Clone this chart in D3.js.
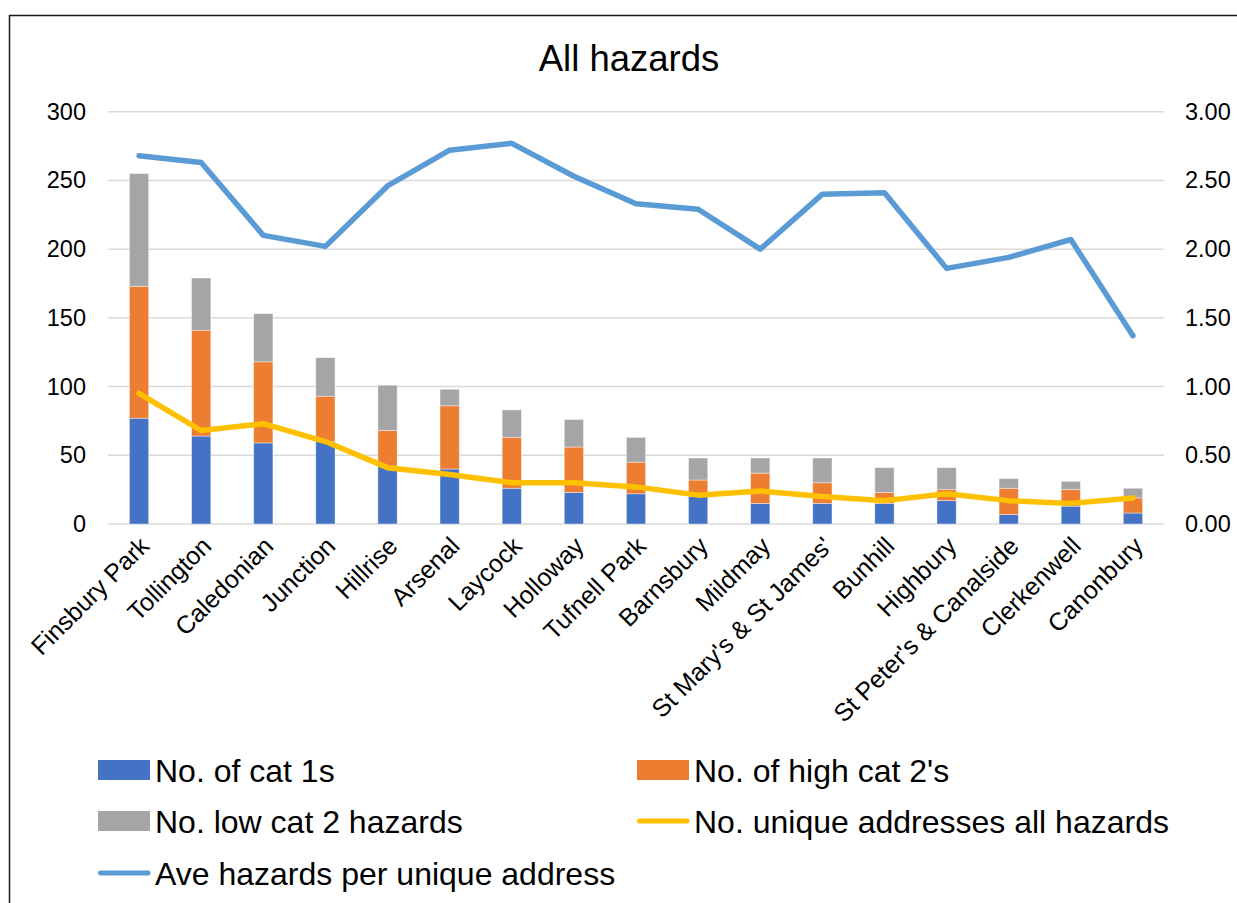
<!DOCTYPE html>
<html>
<head>
<meta charset="utf-8">
<script src="https://cdn.jsdelivr.net/npm/d3@7/dist/d3.min.js"></script>
<style>
  body { margin: 0; background: #fff; }
  svg { display: block; font-family: "Liberation Sans", Arial, sans-serif; }
</style>
</head>
<body>
<svg id="chart" width="1237" height="903"></svg>
<script>
const categories = ["Finsbury Park","Tollington","Caledonian","Junction","Hillrise","Arsenal","Laycock","Holloway","Tufnell Park","Barnsbury","Mildmay","St Mary's & St James'","Bunhill","Highbury","St Peter's & Canalside","Clerkenwell","Canonbury"];
const cat1 = [77,64,59,60,42,40,26,23,22,20,15,15,15,17,7,13,8];
const highCat2 = [96,77,59,33,26,46,37,33,23,12,22,15,8,8,19,12,11];
const lowCat2 = [82,38,35,28,33,12,20,20,18,16,11,18,18,16,7,6,7];
const uniqueAddresses = [95,68,73,60,41,36,30,30,27,21,24,20,17,22,17,15,19];
const aveHazards = [2.68,2.63,2.10,2.02,2.46,2.72,2.77,2.53,2.33,2.29,2.00,2.40,2.41,1.86,1.94,2.07,1.37];
const leftTicks = [0,50,100,150,200,250,300];
const rightTicks = [0,0.5,1,1.5,2,2.5,3];

const seriesNames = ["No. of cat 1s","No. of high cat 2's","No. low cat 2 hazards","No. unique addresses all hazards","Ave hazards per unique address"];
const colors = ["#4472c4","#ed7d31","#a5a5a5","#ffc000","#5b9bd5"];

const svg = d3.select("#chart");
const W = 1237, H = 903;
const plot = {left: 108, right: 1164, top: 111.7, bottom: 524};

// border
svg.append("path").attr("d", `M9.5,${H} V15.5 H${W}`).attr("fill","none").attr("stroke","#1a1a1a").attr("stroke-width",1.5);

const x = d3.scaleBand().domain(categories).range([plot.left, plot.right]).paddingInner(0.69).paddingOuter(0.345);
const y = d3.scaleLinear().domain([0,300]).range([plot.bottom, plot.top]);
const y2 = d3.scaleLinear().domain([0,3]).range([plot.bottom, plot.top]);

// gridlines
svg.append("g").selectAll("line").data(leftTicks).join("line")
  .attr("x1", plot.left).attr("x2", plot.right)
  .attr("y1", d => y(d)).attr("y2", d => y(d))
  .attr("stroke", "#d9d9d9").attr("stroke-width", 1.5);

// left axis
const yAxis = d3.axisLeft(y).tickValues(leftTicks).tickSize(0).tickPadding(0).tickFormat(d3.format("d"));
const gL = svg.append("g").attr("transform", `translate(86,0)`).call(yAxis);
gL.select(".domain").remove();
gL.selectAll("text").attr("font-size", 23.5).attr("fill", "#000").attr("font-family", "Liberation Sans, Arial, sans-serif");

// right axis
const yAxis2 = d3.axisRight(y2).tickValues(rightTicks).tickSize(0).tickPadding(0).tickFormat(d3.format(".2f"));
const gR = svg.append("g").attr("transform", `translate(1185,0)`).call(yAxis2);
gR.select(".domain").remove();
gR.selectAll("text").attr("font-size", 23.5).attr("fill", "#000").attr("font-family", "Liberation Sans, Arial, sans-serif");

// stacked bars
const rows = categories.map((c,i) => ({cat:c, a:cat1[i], b:highCat2[i], c2:lowCat2[i]}));
const stack = d3.stack().keys(["a","b","c2"])(rows);
svg.append("g").selectAll("g").data(stack).join("g")
  .attr("fill", (d,i) => colors[i])
  .selectAll("rect").data(d => d).join("rect")
  .attr("x", d => x(d.data.cat))
  .attr("width", x.bandwidth())
  .attr("y", d => y(d[1]))
  .attr("height", d => y(d[0]) - y(d[1]))
  .attr("stroke", "#ffffff").attr("stroke-opacity", 0.5).attr("stroke-width", 0.8);

// lines
const cx = c => x(c) + x.bandwidth()/2;
const lineU = d3.line().x((d,i) => cx(categories[i])).y(d => y(d));
const lineA = d3.line().x((d,i) => cx(categories[i])).y(d => y2(d));
svg.append("path").datum(uniqueAddresses).attr("d", lineU).attr("fill","none")
  .attr("stroke", colors[3]).attr("stroke-width", 5.5).attr("stroke-linecap","round").attr("stroke-linejoin","round");
svg.append("path").datum(aveHazards).attr("d", lineA).attr("fill","none")
  .attr("stroke", colors[4]).attr("stroke-width", 5.5).attr("stroke-linecap","round").attr("stroke-linejoin","round");

// x labels
const xAxis = d3.axisBottom(x).tickSize(0).tickPadding(0);
const gX = svg.append("g").attr("transform", `translate(0,${plot.bottom})`).call(xAxis);
gX.select(".domain").remove();
gX.selectAll("text")
  .attr("font-size", 25).attr("fill", "#000").attr("font-family", "Liberation Sans, Arial, sans-serif")
  .attr("text-anchor", "end")
  .attr("transform", "translate(-1,11) rotate(-45)")
  .attr("dy", "0.71em").attr("y", 0).attr("x", 0);

// title
svg.append("text").attr("x", 629).attr("y", 71).attr("text-anchor","middle")
  .attr("font-size", 36.5).attr("fill","#000").text("All hazards");

// legend
const legendItems = [
  {i:0, type:"rect", x:98, y:770},
  {i:1, type:"rect", x:637, y:770},
  {i:2, type:"rect", x:98, y:821},
  {i:3, type:"line", x:637, y:821},
  {i:4, type:"line", x:98, y:873}
];
const lg = svg.append("g");
legendItems.forEach(it => {
  if (it.type === "rect") {
    lg.append("rect").attr("x", it.x).attr("y", it.y - 10).attr("width", 52).attr("height", 20).attr("fill", colors[it.i]);
  } else {
    lg.append("line").attr("x1", it.x + 2.5).attr("x2", it.x + 50).attr("y1", it.y).attr("y2", it.y)
      .attr("stroke", colors[it.i]).attr("stroke-width", 5).attr("stroke-linecap","round");
  }
  lg.append("text").attr("x", it.x + 57).attr("y", it.y).attr("dy","0.36em")
    .attr("font-size", 32).attr("fill","#000").text(seriesNames[it.i]);
});
</script>
</body>
</html>
